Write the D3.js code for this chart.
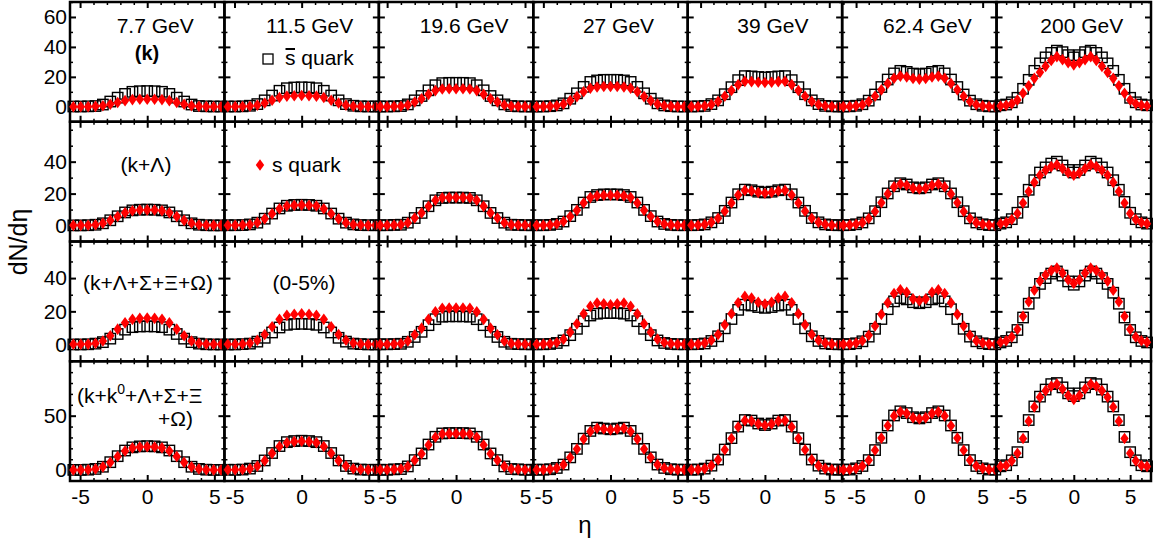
<!DOCTYPE html>
<html>
<head>
<meta charset="utf-8">
<script src="https://cdn.jsdelivr.net/npm/d3@7"></script>
<style>
  body { margin: 0; background: #fff; }
  svg text { font-family: "Liberation Sans", Arial, sans-serif; fill: #000; }
</style>
</head>
<body>
<svg id="chart" width="1160" height="546"></svg>
<script>
// Strange quark / anti-strange quark dN/deta, 4 particle sets x 7 beam energies

const energies = ['7.7 GeV', '11.5 GeV', '19.6 GeV', '27 GeV', '39 GeV', '62.4 GeV', '200 GeV'];

// eta bin spacing per energy, and the half range of each panel's axis
const etaStep = [0.55, 0.55, 0.5, 0.5, 0.52, 0.5, 0.5];
const etaRange = [5.75, 5.75, 5.6, 5.75, 6.0, 6.1, 6.85];
const xTickValues = [-5, 0, 5];

const yDomains = [[-10, 70], [-10, 65], [-10, 62], [-10, 100]];
const yTickValues = [[0, 20, 40, 60], [0, 20, 40], [0, 20, 40], [0, 50]];

// row 1: (k)
const sbarK = [
  [0.2,0.2,0.3,0.5,1.5,3.5,6.1,8.6,10.0,10.4,10.5,10.4,10.0,8.6,6.1,3.5,1.5,0.5,0.3,0.2,0.2],
  [0.2,0.2,0.3,0.7,1.8,4.3,7.5,10.7,12.4,12.9,13,12.9,12.4,10.7,7.5,4.3,1.8,0.7,0.3,0.2,0.2],
  [0.2,0.2,0.3,0.5,1.6,4.3,7.2,11,14.4,15.8,16,16,16,15.8,14.4,11,7.2,4.3,1.6,0.5,0.3,0.2,0.2],
  [0.2,0.2,0.4,0.9,2.3,5.4,9,13.3,16.6,17.6,18,18,18,17.6,16.6,13.3,9,5.4,2.3,0.9,0.4,0.2,0.2],
  [0.2,0.3,0.6,1.8,4.3,8.4,13.1,17.8,20.5,20.3,19.9,19.6,19.9,20.3,20.5,17.8,13.1,8.4,4.3,1.8,0.6,0.3,0.2],
  [0.2,0.3,0.7,1.7,4.1,8.2,13.2,18.2,22.3,24,23.3,22.2,21.8,22.2,23.3,24,22.3,18.2,13.2,8.2,4.1,1.7,0.7,0.3,0.2],
  [1,1.5,3,6,12,18,24,29,33,36,37.5,36.5,34.5,33,34.5,36.5,37.5,36,33,29,24,18,12,6,3,1.5,1]
];
const sK = [
  [0,0,0.1,0.3,0.7,1.7,2.9,4.1,4.8,5,5,5,4.8,4.1,2.9,1.7,0.7,0.3,0.1,0,0],
  [0.1,0.1,0.2,0.4,1.1,2.5,4.4,6.2,7.1,7.4,7.5,7.4,7.1,6.2,4.4,2.5,1.1,0.4,0.2,0.1,0.1],
  [0.1,0.1,0.2,0.4,1.2,3.2,5.4,8.3,10.8,11.9,12,12,12,11.9,10.8,8.3,5.4,3.2,1.2,0.4,0.2,0.1,0.1],
  [0.1,0.1,0.3,0.7,1.8,4.1,6.8,10,12.4,13.2,13.5,13.5,13.5,13.2,12.4,10,6.8,4.1,1.8,0.7,0.3,0.1,0.1],
  [0.1,0.2,0.5,1.5,3.6,7,10.9,14.8,17,16.8,16.4,16.2,16.4,16.8,17,14.8,10.9,7,3.6,1.5,0.5,0.2,0.1],
  [0.1,0.2,0.6,1.4,3.5,7,11.3,15.6,19.1,20.5,19.9,18.9,18.5,18.9,19.9,20.5,19.1,15.6,11.3,7,3.5,1.4,0.6,0.2,0.1],
  [0.5,1,2,4.5,9,14,19,23,27,31,33.5,31.5,29.5,28,29.5,31.5,33.5,31,27,23,19,14,9,4.5,2,1,0.5]
];

// row 2: (k+Lambda)
const sbarKL = [
  [0.1,0.1,0.2,0.5,1.4,3.3,5.8,8.2,9.5,9.9,10,9.9,9.5,8.2,5.8,3.3,1.4,0.5,0.2,0.1,0.1],
  [0.2,0.2,0.3,0.7,1.8,4.3,7.5,10.7,12.4,12.9,13,12.9,12.4,10.7,7.5,4.3,1.8,0.7,0.3,0.2,0.2],
  [0.2,0.2,0.4,0.5,1.8,4.7,7.9,12.1,15.8,17.3,17.5,17.5,17.5,17.3,15.8,12.1,7.9,4.7,1.8,0.5,0.4,0.2,0.2],
  [0.2,0.2,0.4,1,2.5,5.9,9.8,14.4,17.9,19.1,19.5,19.5,19.5,19.1,17.9,14.4,9.8,5.9,2.5,1,0.4,0.2,0.2],
  [0.2,0.3,0.7,2,4.7,9.2,14.4,19.6,22.5,22.1,21.2,20.7,21.2,22.1,22.5,19.6,14.4,9.2,4.7,2,0.7,0.3,0.2],
  [0.2,0.3,0.8,1.9,4.5,9,14.6,20.1,24.6,26.5,25.7,23.9,23.3,23.9,25.7,26.5,24.6,20.1,14.6,9,4.5,1.9,0.8,0.3,0.2],
  [1.2,2,4,8,14.8,22.4,28.4,33.2,36.4,38.8,40,37.6,34.8,33.2,34.8,37.6,40,38.8,36.4,33.2,28.4,22.4,14.8,8,4,2,1.2]
];
const sKL = [
  [0.1,0.1,0.2,0.5,1.4,3.2,5.7,8.0,9.3,9.7,9.8,9.7,9.3,8.0,5.7,3.2,1.4,0.5,0.2,0.1,0.1],
  [0.1,0.1,0.3,0.6,1.8,4.2,7.4,10.5,12.2,12.7,12.8,12.7,12.2,10.5,7.4,4.2,1.8,0.6,0.3,0.1,0.1],
  [0.1,0.2,0.3,0.5,1.7,4.7,7.9,12,15.8,17.4,17.6,17.6,17.6,17.4,15.8,12,7.9,4.7,1.7,0.5,0.3,0.2,0.1],
  [0.1,0.2,0.4,1,2.5,5.7,9.5,14.1,17.5,18.6,19,19,19,18.6,17.5,14.1,9.5,5.7,2.5,1,0.4,0.2,0.1],
  [0.1,0.2,0.7,2,4.6,9,14.1,19.1,22,21.6,20.7,20.2,20.7,21.6,22,19.1,14.1,9,4.6,2,0.7,0.2,0.1],
  [0.1,0.3,0.8,1.8,4.4,8.8,14.3,19.8,24.2,26,25.2,23.4,22.9,23.4,25.2,26,24.2,19.8,14.3,8.8,4.4,1.8,0.8,0.3,0.1],
  [1.1,1.9,3.8,7.6,14.1,21.3,27,31.5,34.6,36.9,38,35.7,33.1,31.5,33.1,35.7,38,36.9,34.6,31.5,27,21.3,14.1,7.6,3.8,1.9,1.1]
];

// row 3: (k+Lambda+Sigma+Xi+Omega)
const sbarAll = [
  [0.1,0.1,0.2,0.6,1.5,3.6,6.4,9,10.5,10.9,11,10.9,10.5,9,6.4,3.6,1.5,0.6,0.2,0.1,0.1],
  [0.1,0.1,0.3,0.6,1.8,4.1,7.3,10.3,11.9,12.4,12.5,12.4,11.9,10.3,7.3,4.1,1.8,0.6,0.3,0.1,0.1],
  [0.2,0.2,0.3,0.5,1.7,4.6,7.7,11.7,15.3,16.8,17,17,17,16.8,15.3,11.7,7.7,4.6,1.7,0.5,0.3,0.2,0.2],
  [0.2,0.2,0.4,1,2.5,5.7,9.5,14.1,17.5,18.6,19,19,19,18.6,17.5,14.1,9.5,5.7,2.5,1,0.4,0.2,0.2],
  [0.2,0.3,0.7,2.2,5,9.8,15.4,20.9,24,23.5,22.6,22.1,22.6,23.5,24,20.9,15.4,9.8,5,2.2,0.7,0.3,0.2],
  [0.2,0.3,0.8,2,4.8,9.5,15.4,21.3,26,28,27.2,25.5,24.9,25.5,27.2,28,26,21.3,15.4,9.5,4.8,2,0.8,0.3,0.2],
  [1.3,2.2,4.4,8.8,16.3,24.6,31.2,36.5,40,42.7,44,41.5,38,36,38,41.5,44,42.7,40,36.5,31.2,24.6,16.3,8.8,4.4,2.2,1.3]
];
const sAll = [
  [0.2,0.2,0.3,0.8,2.2,5.3,9.3,13.1,15.2,15.8,16,15.8,15.2,13.1,9.3,5.3,2.2,0.8,0.3,0.2,0.2],
  [0.2,0.2,0.4,0.9,2.6,6.1,10.7,15.2,17.6,18.3,18.5,18.3,17.6,15.2,10.7,6.1,2.6,0.9,0.4,0.2,0.2],
  [0.2,0.2,0.4,0.7,2.2,5.9,9.9,15.2,19.8,21.8,22,22,22,21.8,19.8,15.2,9.9,5.9,2.2,0.7,0.4,0.2,0.2],
  [0.2,0.3,0.5,1.3,3.3,7.5,12.5,18.5,23,25,24.5,24,24.5,25,23,18.5,12.5,7.5,3.3,1.3,0.5,0.3,0.2],
  [0.2,0.3,0.9,2.6,6.1,11.9,18.6,25.2,29,28,25.5,24.4,25.5,28,29,25.2,18.6,11.9,6.1,2.6,0.9,0.3,0.2],
  [0.2,0.3,1,2.3,5.6,11.2,18.2,25.1,30.7,33,31.5,27.5,26.4,27.5,31.5,33,30.7,25.1,18.2,11.2,5.6,2.3,1,0.3,0.2],
  [1.4,2.3,4.6,9.2,17,25.8,32.7,38.2,41.9,44.6,46,43,39,36.8,39,43,46,44.6,41.9,38.2,32.7,25.8,17,9.2,4.6,2.3,1.4]
];

// row 4: (k+k0+Lambda+Sigma+Xi+Omega)
const sbarAllK0 = [
  [0.2,0.2,0.4,1.1,3.1,7.3,12.8,18,20.9,21.8,22,21.8,20.9,18,12.8,7.3,3.1,1.1,0.4,0.2,0.2],
  [0.3,0.3,0.5,1.4,3.8,8.9,15.7,22.1,25.7,26.7,27,26.7,25.7,22.1,15.7,8.9,3.8,1.4,0.5,0.3,0.3],
  [0.3,0.3,0.7,1,3.4,9.2,15.3,23.5,30.6,33.7,34,34,34,33.7,30.6,23.5,15.3,9.2,3.4,1,0.7,0.3,0.3],
  [0.4,0.4,0.8,2,5.1,11.7,19.5,28.9,36,39,38.2,37.5,38.2,39,36,28.9,19.5,11.7,5.1,2,0.8,0.4,0.4],
  [0.4,0.5,1.4,4.1,9.7,18.9,29.4,40,46,45.5,42.8,41.4,42.8,45.5,46,40,29.4,18.9,9.7,4.1,1.4,0.5,0.4],
  [0.4,0.5,1.6,3.8,9.2,18.4,29.7,41,50.2,54,52.4,48.6,47.5,48.6,52.4,54,50.2,41,29.7,18.4,9.2,3.8,1.6,0.5,0.4],
  [3.5,4.5,9,16.5,30.5,46,58.5,67.5,74,79,80,76,70.5,68,70.5,76,80,79,74,67.5,58.5,46,30.5,16.5,9,4.5,3.5]
];
const sAllK0 = [
  [0.2,0.2,0.4,1.1,3,7.1,12.5,17.6,20.4,21.3,21.5,21.3,20.4,17.6,12.5,7.1,3,1.1,0.4,0.2,0.2],
  [0.3,0.3,0.5,1.3,3.7,8.7,15.4,21.7,25.2,26.2,26.5,26.2,25.2,21.7,15.4,8.7,3.7,1.3,0.5,0.3,0.3],
  [0.3,0.3,0.7,1,3.4,9,15.1,23.1,30.2,33.2,33.5,33.5,33.5,33.2,30.2,23.1,15.1,9,3.4,1,0.7,0.3,0.3],
  [0.4,0.4,0.8,1.9,5,11.6,19.3,28.5,35.5,38.5,37.7,37,37.7,38.5,35.5,28.5,19.3,11.6,5,1.9,0.8,0.4,0.4],
  [0.4,0.5,1.4,4.1,9.6,18.7,29.1,39.6,45.5,45,42.3,41,42.3,45,45.5,39.6,29.1,18.7,9.6,4.1,1.4,0.5,0.4],
  [0.4,0.5,1.6,3.7,9.1,18.2,29.4,40.7,49.8,53.5,51.9,48.2,47,48.2,51.9,53.5,49.8,40.7,29.4,18.2,9.1,3.7,1.6,0.5,0.4],
  [3.4,4.3,8.5,15.5,29,45,58,67,73,77,79,74.5,68.5,65,68.5,74.5,79,77,73,67,58,45,29,15.5,8.5,4.3,3.4]
];

const sbarRows = [sbarK, sbarKL, sbarAll, sbarAllK0];
const sRows = [sK, sKL, sAll, sAllK0];

// Layout
const plotLeft = 70, plotRight = 1151, plotTop = 2, plotBottom = 481;
const pw = (plotRight - plotLeft) / 7;
const ph = (plotBottom - plotTop) / 4;
const fontSize = 21;

const svg = d3.select('#chart');

const diamond = 'M0,-5.8L4.2,0L0,5.8L-4.2,0Z';

function tickGroup(parent, axis, transform, width) {
  parent.append('g')
    .attr('transform', transform)
    .call(axis)
    .call(g => g.select('.domain').remove())
    .selectAll('line')
    .attr('stroke', '#000')
    .attr('stroke-width', width);
}

for (let r = 0; r < 4; r++) {
  for (let c = 0; c < 7; c++) {
    const x0 = plotLeft + c * pw;
    const y0 = plotTop + r * ph;
    const g = svg.append('g');

    const x = d3.scaleLinear().domain([-etaRange[c], etaRange[c]]).range([x0, x0 + pw]);
    const y = d3.scaleLinear().domain(yDomains[r]).range([y0 + ph, y0]);

    const xMinor = d3.range(-Math.floor(etaRange[c]), Math.floor(etaRange[c]) + 1)
      .filter(v => v % 5 !== 0);
    const yMinor = d3.range(0, yDomains[r][1] + 0.01, 10)
      .filter(v => !yTickValues[r].includes(v));

    // inward ticks on all four sides
    tickGroup(g, d3.axisTop(x).tickValues(xTickValues).tickSize(6).tickFormat(''), `translate(0,${y0 + ph})`, 2);
    tickGroup(g, d3.axisTop(x).tickValues(xMinor).tickSize(3).tickFormat(''), `translate(0,${y0 + ph})`, 1.5);
    tickGroup(g, d3.axisBottom(x).tickValues(xTickValues).tickSize(6).tickFormat(''), `translate(0,${y0})`, 2);
    tickGroup(g, d3.axisBottom(x).tickValues(xMinor).tickSize(3).tickFormat(''), `translate(0,${y0})`, 1.5);
    tickGroup(g, d3.axisRight(y).tickValues(yTickValues[r]).tickSize(6).tickFormat(''), `translate(${x0},0)`, 2);
    tickGroup(g, d3.axisRight(y).tickValues(yMinor).tickSize(3).tickFormat(''), `translate(${x0},0)`, 1.5);
    tickGroup(g, d3.axisLeft(y).tickValues(yTickValues[r]).tickSize(6).tickFormat(''), `translate(${x0 + pw},0)`, 2);
    tickGroup(g, d3.axisLeft(y).tickValues(yMinor).tickSize(3).tickFormat(''), `translate(${x0 + pw},0)`, 1.5);

    // panel frame
    g.append('rect')
      .attr('x', x0).attr('y', y0)
      .attr('width', pw).attr('height', ph)
      .attr('fill', 'none')
      .attr('stroke', '#000')
      .attr('stroke-width', 2.5);

    // anti-strange quark: open squares
    const sbar = sbarRows[r][c];
    const eta = sbar.map((v, i) => (i - (sbar.length - 1) / 2) * etaStep[c]);
    g.append('g').selectAll('rect')
      .data(sbar)
      .enter()
      .append('rect')
      .attr('x', (d, i) => x(eta[i]) - 5.2)
      .attr('y', d => y(d) - 5.2)
      .attr('width', 10.4)
      .attr('height', 10.4)
      .attr('fill', 'none')
      .attr('stroke', '#000')
      .attr('stroke-width', 1.4);

    // strange quark: red diamonds
    const s = sRows[r][c];
    const etaS = s.map((v, i) => (i - (s.length - 1) / 2) * etaStep[c]);
    g.append('g').selectAll('path')
      .data(s)
      .enter()
      .append('path')
      .attr('d', diamond)
      .attr('transform', (d, i) => `translate(${x(etaS[i])},${y(d)})`)
      .attr('fill', '#ff0000');

    // tick labels on the outer edges
    if (r === 3) {
      svg.append('g')
        .attr('transform', `translate(0,${plotBottom})`)
        .call(d3.axisBottom(x).tickValues(xTickValues).tickSize(0).tickPadding(8).tickFormat(d => String(d)))
        .call(a => a.select('.domain').remove())
        .selectAll('text')
        .attr('font-size', fontSize)
        .attr('font-family', '"Liberation Sans", Arial, sans-serif');
    }
    if (c === 0) {
      svg.append('g')
        .attr('transform', `translate(${plotLeft},0)`)
        .call(d3.axisLeft(y).tickValues(yTickValues[r]).tickSize(0).tickPadding(3).tickFormat(d => String(d)))
        .call(a => a.select('.domain').remove())
        .selectAll('text')
        .attr('font-size', fontSize)
        .attr('font-family', '"Liberation Sans", Arial, sans-serif');
    }
  }
}

// energy labels
svg.append('g').selectAll('text')
  .data(energies)
  .enter()
  .append('text')
  .attr('x', (d, i) => plotLeft + (i + 0.5) * pw + 8)
  .attr('y', 33)
  .attr('text-anchor', 'middle')
  .attr('font-size', fontSize)
  .text(d => d);

// row annotations
svg.append('text').attr('x', 147).attr('y', 60).attr('text-anchor', 'middle')
  .attr('font-size', 20).attr('font-weight', 'bold').text('(k)');
svg.append('text').attr('x', 146).attr('y', 172).attr('text-anchor', 'middle')
  .attr('font-size', fontSize).text('(k+\u039B)');
svg.append('text').attr('x', 83).attr('y', 290)
  .attr('font-size', fontSize).text('(k+\u039B+\u03A3+\u039E+\u03A9)');
svg.append('text').attr('x', 304).attr('y', 290).attr('text-anchor', 'middle')
  .attr('font-size', fontSize).text('(0-5%)');
const k0 = svg.append('text').attr('x', 77).attr('y', 403).attr('font-size', fontSize);
k0.append('tspan').text('(k+k');
k0.append('tspan').attr('font-size', 14).attr('dy', -9).text('0');
k0.append('tspan').attr('dy', 9).text('+\u039B+\u03A3+\u039E');
svg.append('text').attr('x', 158).attr('y', 426)
  .attr('font-size', fontSize).text('+\u03A9)');

// legend entries
svg.append('rect').attr('x', 263).attr('y', 54).attr('width', 10).attr('height', 10)
  .attr('fill', 'none').attr('stroke', '#000').attr('stroke-width', 1.3);
svg.append('text').attr('x', 285).attr('y', 65).attr('font-size', fontSize).text('s quark');
svg.append('line').attr('x1', 285.5).attr('x2', 295).attr('y1', 49).attr('y2', 49)
  .attr('stroke', '#000').attr('stroke-width', 2);
svg.append('path').attr('d', diamond).attr('transform', 'translate(260,165)').attr('fill', '#ff0000');
svg.append('text').attr('x', 272).attr('y', 172).attr('font-size', fontSize).text('s quark');

// axis titles
svg.append('text')
  .attr('transform', 'translate(27,242) rotate(-90)')
  .attr('text-anchor', 'middle')
  .attr('font-size', 25)
  .text('dN/d\u03B7');
svg.append('text')
  .attr('x', 585).attr('y', 533)
  .attr('text-anchor', 'middle')
  .attr('font-size', 24)
  .text('\u03B7');
</script>
</body>
</html>
